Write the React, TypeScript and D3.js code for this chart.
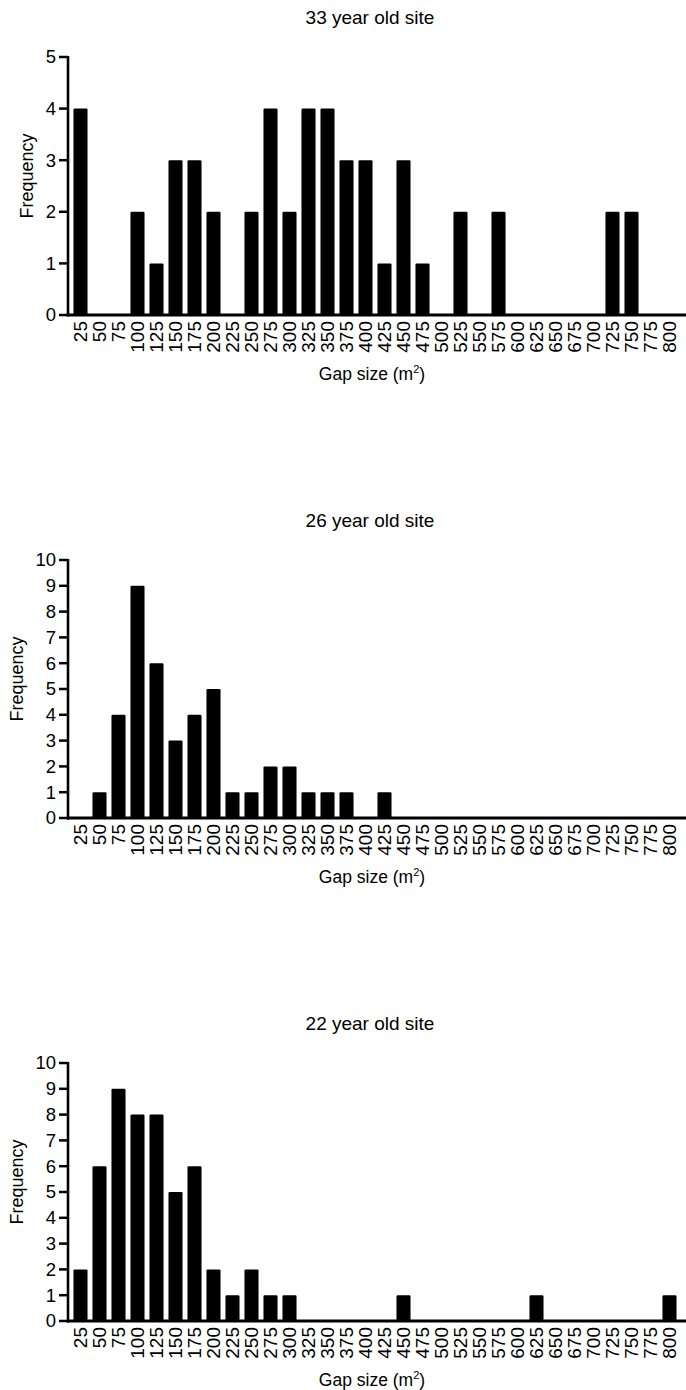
import React from 'react';
import * as d3 from 'd3';

// gap size bins (m²)
const bins = [
  '25', '50', '75', '100', '125', '150', '175', '200', '225', '250', '275', '300',
  '325', '350', '375', '400', '425', '450', '475', '500', '525', '550', '575', '600',
  '625', '650', '675', '700', '725', '750', '775', '800',
];

// frequencies per bin
const site33 = [4, 0, 0, 2, 1, 3, 3, 2, 0, 2, 4, 2, 4, 4, 3, 3, 1, 3, 1, 0, 2, 0, 2, 0, 0, 0, 0, 0, 2, 2, 0, 0];
const site26 = [0, 1, 4, 9, 6, 3, 4, 5, 1, 1, 2, 2, 1, 1, 1, 0, 1, 0, 0, 0, 0, 0, 0, 0, 0, 0, 0, 0, 0, 0, 0, 0];
const site22 = [2, 6, 9, 8, 8, 5, 6, 2, 1, 2, 1, 1, 0, 0, 0, 0, 0, 1, 0, 0, 0, 0, 0, 0, 1, 0, 0, 0, 0, 0, 0, 1];

const titles = ['33 year old site', '26 year old site', '22 year old site'];
const yMaxes = [5, 10, 10];

const font = '"Liberation Sans", Arial, sans-serif';
const W = 686;
const H = 1390;
const axisX = 68;
const panelStep = 503;

const Panel = (props) => {
  const off = props.index * panelStep;
  const zero = 315 + off;
  const top = 57 + off;

  const x = d3.scaleBand()
    .domain(bins)
    .range([71, 679])
    .paddingInner(0.26)
    .paddingOuter(0.13);

  const y = d3.scaleLinear()
    .domain([0, props.yMax])
    .range([zero, top]);

  const ticks = y.ticks(props.yMax);
  const maxChars = d3.max(ticks, (t) => String(t).length);
  const yTitleX = 56 - maxChars * 10 - 13;

  return (
    <g>
      <text x={370} y={23.5 + off} textAnchor="middle" fontSize={19}>{props.title}</text>

      {props.values.map((v, i) => v > 0 && (
        <rect key={i}
          x={x(bins[i])}
          y={y(v)}
          width={x.bandwidth()}
          height={zero - y(v)}
          rx={1.2}
          fill="#000" />
      ))}

      {/* axes */}
      <line x1={axisX} x2={axisX} y1={top - 1} y2={zero + 1.5} stroke="#000" strokeWidth={2.6} />
      <line x1={axisX - 1.3} x2={W} y1={zero} y2={zero} stroke="#000" strokeWidth={3} />

      {ticks.map((t) => (
        <g key={t}>
          <line x1={59} x2={axisX} y1={y(t)} y2={y(t)} stroke="#000" strokeWidth={2.5} />
          <text x={56} y={y(t)} dy="0.35em" textAnchor="end" fontSize={18.5}>{t}</text>
        </g>
      ))}

      {bins.map((b) => (
        <text key={b}
          transform={`translate(${x(b) + x.bandwidth() / 2},${zero + 6}) rotate(-90)`}
          dy="0.35em"
          textAnchor="end"
          fontSize={19}>{b}</text>
      ))}

      <text transform={`translate(${yTitleX},${(top + zero) / 2 - 10}) rotate(-90)`}
        textAnchor="middle" fontSize={18}>Frequency</text>

      <text x={372} y={380 + off} textAnchor="middle" fontSize={17.5}>
        Gap size (m<tspan dy={-7} fontSize={11}>2</tspan><tspan dy={7}>)</tspan>
      </text>
    </g>
  );
};

export default function App() {
  const series = [site33, site26, site22];
  return (
    <div style={{ position: 'absolute', left: 0, top: 0 }}>
      <svg width={W} height={H} style={{ display: 'block', background: '#fff' }} fontFamily={font} fill="#000">
        {series.map((s, i) => (
          <Panel key={i} index={i} title={titles[i]} values={s} yMax={yMaxes[i]} />
        ))}
      </svg>
    </div>
  );
}
